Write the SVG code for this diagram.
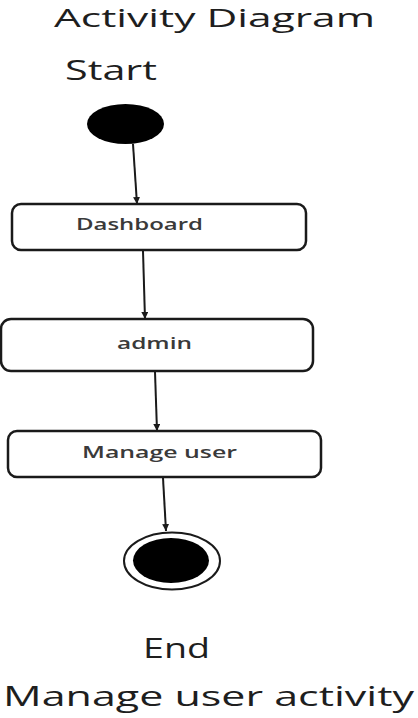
<svg xmlns="http://www.w3.org/2000/svg" width="418" height="718" viewBox="0 0 418 718">
  <style>
    .lbl { font-family: "Open Sans", "Liberation Sans", sans-serif; font-size: 27px; fill: #1e1e1e; }
    .title { font-size: 25px; }
    .act { fill: #ffffff; stroke: #1a1a1a; stroke-width: 2.5; }
    .act-text { font-family: "Open Sans", "Liberation Sans", sans-serif; font-size: 16px; font-weight: 600; fill: #3a3a3a; }
    .flow { stroke: #1a1a1a; stroke-width: 2; fill: none; marker-end: url(#arrow); }
  </style>
  <defs>
    <marker id="arrow" viewBox="0 0 10 10" refX="10" refY="5" markerWidth="7" markerHeight="7" orient="auto" markerUnits="userSpaceOnUse">
      <path d="M0,0 L10,5 L0,10 Z" fill="#1a1a1a"/>
    </marker>
  </defs>
  <rect width="418" height="718" fill="#ffffff"/>

  <text class="lbl title" x="54" y="27" textLength="321" lengthAdjust="spacingAndGlyphs">Activity Diagram</text>
  <text class="lbl" x="65" y="80" textLength="92" lengthAdjust="spacingAndGlyphs">Start</text>

  <g id="connectors">
    <line class="flow" x1="133" y1="144" x2="137" y2="204"/>
    <line class="flow" x1="143" y1="251" x2="145" y2="319"/>
    <line class="flow" x1="155" y1="372" x2="157" y2="431"/>
    <line class="flow" x1="163" y1="478" x2="166" y2="531"/>
  </g>

  <g id="start">
    <ellipse cx="125.5" cy="124" rx="38.5" ry="20" fill="#000000"/>
  </g>

  <g id="dashboard">
    <rect class="act" x="12" y="204" width="294" height="46" rx="9"/>
    <text class="act-text" x="76" y="230" textLength="127" lengthAdjust="spacingAndGlyphs">Dashboard</text>
  </g>

  <g id="admin">
    <rect class="act" x="1" y="319" width="312" height="52" rx="10"/>
    <text class="act-text" x="117" y="349" textLength="75" lengthAdjust="spacingAndGlyphs">admin</text>
  </g>

  <g id="manage-user">
    <rect class="act" x="8" y="431" width="313" height="46" rx="9"/>
    <text class="act-text" x="82" y="458" textLength="155" lengthAdjust="spacingAndGlyphs">Manage user</text>
  </g>

  <g id="end">
    <ellipse cx="172" cy="561" rx="48" ry="28.5" fill="#ffffff" stroke="#1a1a1a" stroke-width="2"/>
    <ellipse cx="171" cy="560.5" rx="38" ry="22.5" fill="#000000"/>
  </g>

  <text class="lbl" x="143" y="658" textLength="67" lengthAdjust="spacingAndGlyphs">End</text>
  <text class="lbl" x="3" y="706" textLength="411" lengthAdjust="spacingAndGlyphs">Manage user activity</text>
</svg>
